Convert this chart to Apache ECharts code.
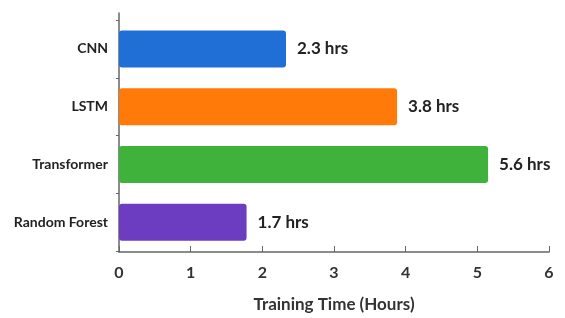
<!DOCTYPE html>
<html>
<head>
<meta charset="utf-8">
<script src="https://cdn.jsdelivr.net/npm/echarts@6/dist/echarts.min.js"></script>
<style>
  html, body { margin: 0; padding: 0; background: #fff; }
  #chart { width: 565px; height: 318px; }
</style>
</head>
<body>
<div id="chart"></div>
<script>
  // data
  var models = ['CNN', 'LSTM', 'Transformer', 'Random Forest'];
  // bar lengths as drawn in the picture
  var barHours = [2.33, 3.88, 5.15, 1.78];
  // values as printed next to the bars
  var printedHours = [2.3, 3.8, 5.6, 1.7];
  var barColors = ['#1f6fd6', '#ff7a08', '#3eb23a', '#6c3dc0'];
  var xTicks = [0, 1, 2, 3, 4, 5, 6];

  var chart = echarts.init(document.getElementById('chart'));
  var font = 'Lato, "Open Sans", sans-serif';
  var axisColor = '#666';

  chart.setOption({
    animation: false,
    grid: [
      { left: 119, right: 16, top: 20, height: 231 }, // bars
      { left: 119, right: 16, top: 13, bottom: 56 }   // axis frame
    ],
    xAxis: [{
      gridIndex: 0,
      type: 'value',
      min: xTicks[0],
      max: xTicks[xTicks.length - 1],
      interval: 1,
      show: false
    }, {
      gridIndex: 1,
      type: 'value',
      min: xTicks[0],
      max: xTicks[xTicks.length - 1],
      interval: 1,
      name: 'Training Time (Hours)',
      nameLocation: 'middle',
      nameGap: 44,
      nameTextStyle: { fontFamily: font, fontSize: 17, fontWeight: 'bold', color: '#333' },
      axisLine: { show: true, lineStyle: { color: axisColor, width: 1.5 } },
      axisTick: { show: true, length: 6, inside: true, lineStyle: { color: axisColor } },
      axisLabel: { fontFamily: font, fontSize: 16, fontWeight: 'bold', color: '#333', margin: 13 },
      splitLine: { show: false }
    }],
    yAxis: [{
      gridIndex: 0,
      type: 'category',
      inverse: true,
      data: models,
      axisLine: { show: false },
      axisTick: { show: true, length: 3, lineStyle: { color: axisColor } },
      axisLabel: { fontFamily: font, fontSize: 14, fontWeight: 'bold', color: '#222', margin: 11 }
    }, {
      gridIndex: 1,
      type: 'value',
      axisLine: { show: true, lineStyle: { color: axisColor, width: 1.5 } },
      axisTick: { show: false },
      axisLabel: { show: false },
      splitLine: { show: false }
    }],
    series: [{
      type: 'bar',
      xAxisIndex: 0,
      yAxisIndex: 0,
      barWidth: 37,
      data: barHours.map(function (v, i) {
        return { value: v, itemStyle: { color: barColors[i], borderRadius: 3 } };
      }),
      label: {
        show: true,
        position: 'right',
        distance: 11,
        formatter: function (p) { return printedHours[p.dataIndex] + ' hrs'; },
        fontFamily: font,
        fontSize: 17,
        fontWeight: 'bold',
        color: '#222'
      }
    }]
  });
</script>
</body>
</html>
